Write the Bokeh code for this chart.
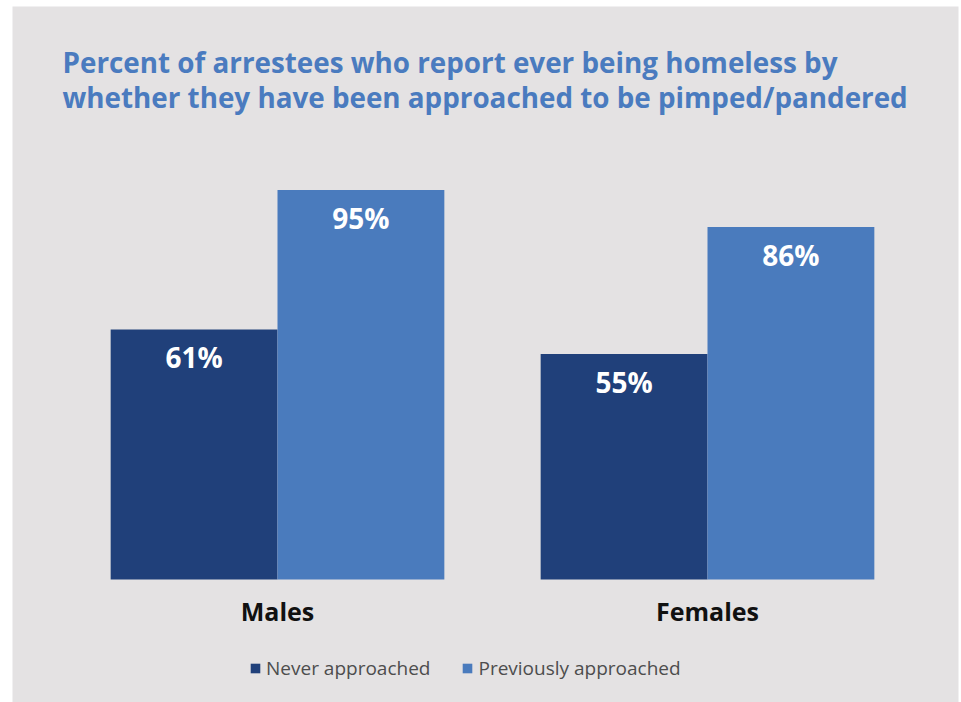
from bokeh.plotting import figure
from bokeh.models import Range1d, Label, Legend, LegendItem, ColumnDataSource
from bokeh.core.properties import value
from bokeh.embed import file_html
from bokeh.resources import INLINE

title_lines = ["Percent of arrestees who report ever being homeless by",
               "whether they have been approached to be pimped/pandered"]
categories = ["Males", "Females"]
series_names = ["Never approached", "Previously approached"]
never = [61, 55]
previously = [95, 86]

DARK = "#20407A"
LIGHT = "#4A7BBD"
BG = "#E4E2E3"
FONT = "Open Sans"

W, H = 961, 702
FL, FR, FT, FB = 12, 3, 6, 0
p = figure(width=W, height=H, output_backend="svg", toolbar_location=None,
           x_axis_type=None, y_axis_type=None,
           min_border_left=FL, min_border_right=FR, min_border_top=FT, min_border_bottom=FB,
           x_range=Range1d(-0.61628, 1.58372), y_range=Range1d(-30.0, 139.76))
p.background_fill_color = BG
p.border_fill_color = "white"
p.outline_line_color = None
p.grid.visible = False

bw = 0.388
xs = list(range(len(categories)))
src = ColumnDataSource(dict(
    x_never=[x - bw / 2 for x in xs],
    x_prev=[x + bw / 2 for x in xs],
    never=never, prev=previously,
    never_lab=[f"{v}%" for v in never],
    prev_lab=[f"{v}%" for v in previously],
    cat_x=xs, cat=categories, zero=[0] * len(xs),
))

r1 = p.vbar(x="x_never", top="never", bottom=0, width=bw, source=src,
            fill_color=DARK, line_color=None)
r2 = p.vbar(x="x_prev", top="prev", bottom=0, width=bw, source=src,
            fill_color=LIGHT, line_color=None)

for xcol, ycol, lcol in [("x_never", "never", "never_lab"), ("x_prev", "prev", "prev_lab")]:
    p.text(x=xcol, y=ycol, text=lcol, source=src, text_align="center",
           text_baseline="middle", y_offset=28, text_color="white",
           text_font=value(FONT), text_font_style="bold", text_font_size="28px")

p.text(x="cat_x", y="zero", text="cat", source=src, text_align="center",
       text_baseline="middle", y_offset=31, text_color="#111111",
       text_font=value(FONT), text_font_style="bold", text_font_size="25px")

for i, line in enumerate(title_lines):
    p.add_layout(Label(x=62 - FL, y=(H - 61) - 35 * i, x_units="screen", y_units="screen",
                       text=line, text_font=FONT, text_font_style="bold",
                       text_font_size="27.8px", text_color="#4A7BBF",
                       text_baseline="alphabetic"))

legend = Legend(items=[LegendItem(label=series_names[0], renderers=[r1]),
                       LegendItem(label=series_names[1], renderers=[r2])],
                orientation="horizontal", location=(249 - FL, H - 681),
                glyph_width=12, glyph_height=12, label_standoff=5, spacing=31,
                padding=0, margin=0, border_line_alpha=0, background_fill_alpha=0,
                label_text_font=FONT, label_text_font_size="19px",
                label_text_color="#4D4D4D", label_height=20)
p.add_layout(legend)

open("out.html", "w").write(file_html(p, INLINE))
